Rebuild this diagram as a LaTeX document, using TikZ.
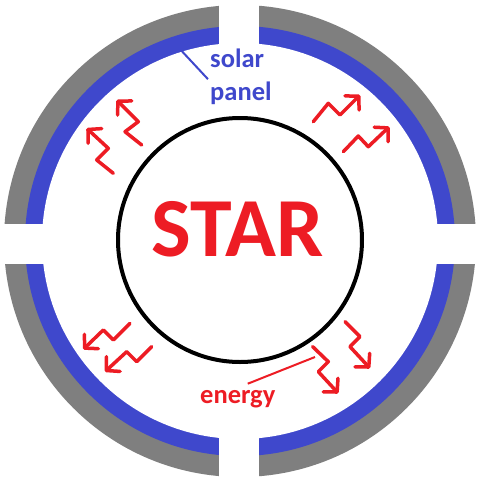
\documentclass[tikz,border=0pt]{standalone}
\usepackage{fontspec}
\setmainfont{Carlito}
\usetikzlibrary{arrows.meta}
\definecolor{pgray}{RGB}{127,127,127}
\definecolor{pblue}{RGB}{63,72,204}
\definecolor{pred}{RGB}{237,28,36}
\tikzset{
  zz/.style={draw=pred, line width=3.5pt, line join=round, line cap=round,
    -{Straight Barb[length=9.5pt,width=20pt,line cap=round,line join=round]}},
  lbl/.style={inner sep=0pt, anchor=base west, font=\bfseries\fontsize{26.5}{30}\selectfont},
}
\begin{document}
\begin{tikzpicture}[x=1pt,y=-1pt]
\useasboundingbox (0,0) rectangle (480,480);
\fill[white] (0,0) rectangle (480,480);
% ring panels
\fill[pgray] (240,241) circle (236pt);
\fill[pblue] (240,241) circle (215pt);
\fill[white] (240,241) circle (198pt);
\fill[white] (219,0) rectangle (259,480);
\fill[white] (0,224) rectangle (480,264);
% star
\draw[black, line width=4pt] (240,240) circle (122pt);
\node[text=pred, inner sep=0pt, anchor=base, font=\bfseries\fontsize{84}{86}\selectfont] (star) at (237.5,256) {STAR};
% labels
\node[lbl, text=pblue] (solar) at (210,67) {solar};
\node[lbl, text=pblue] (panel) at (210,100) {panel};
\coordinate (ringpt) at (178,47);
\draw[pblue, line width=2pt] (ringpt) -- ([shift={(-2,-2)}]panel.north west);
\node[lbl, text=pred] (energy) at (200,403) {energy};
\coordinate (etip) at (315,357);
\draw[pred, line width=2pt] (etip) -- ([shift={(10,-6)}]energy.north);
% energy arrows
\draw[zz] (141.7,145) -- (125,131.7) -- (138.3,121.7) -- (116.7,100);
\draw[zz] (113.3,173.3) -- (96.7,160) -- (108.3,148.3) -- (86.7,128.3);
\draw[zz] (313.3,121.7) -- (328.3,103.3) -- (340,115) -- (360,95);
\draw[zz] (343.3,151.7) -- (358.3,136) -- (368.3,146.7) -- (389.3,126.7);
\draw[zz] (130,323.3) -- (113.3,340) -- (103.3,330) -- (83.3,349.3);
\draw[zz] (151.7,346.7) -- (136.7,361.7) -- (126.7,351.7) -- (105,371.7);
\draw[zz] (345,321.7) -- (360,336.7) -- (350,346.7) -- (370,368.3);
\draw[zz] (312.7,346.7) -- (328.3,361.7) -- (318.3,371.7) -- (338.3,393.3);
\end{tikzpicture}
\end{document}
